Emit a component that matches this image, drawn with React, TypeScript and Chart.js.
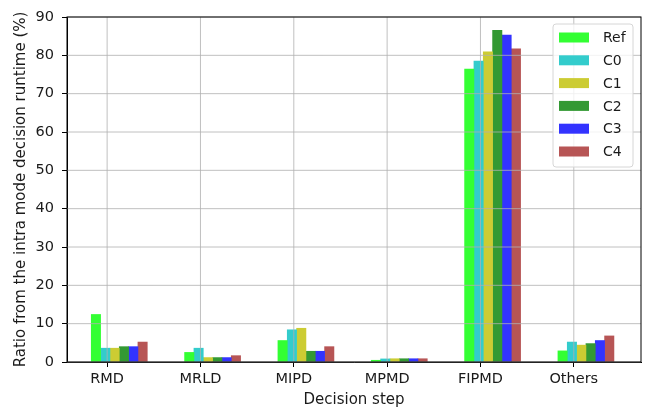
import React, { useEffect, useRef } from "react";
import { Chart, registerables } from "chart.js";

Chart.register(...registerables);

const categories = ["RMD", "MRLD", "MIPD", "MPMD", "FIPMD", "Others"];
const seriesNames = ["Ref", "C0", "C1", "C2", "C3", "C4"];
const refValues = [12.4, 2.5, 5.6, 0.45, 76.4, 2.9];
const c0Values = [3.6, 3.6, 8.4, 0.8, 78.5, 5.2];
const c1Values = [3.6, 1.15, 8.8, 0.85, 80.9, 4.4];
const c2Values = [4.0, 1.15, 2.8, 0.85, 86.5, 4.8];
const c3Values = [4.0, 1.15, 2.8, 0.85, 85.3, 5.6];
const c4Values = [5.2, 1.65, 4.0, 0.85, 81.7, 6.8];
const seriesValues = [refValues, c0Values, c1Values, c2Values, c3Values, c4Values];
const yTicks = [0, 10, 20, 30, 40, 50, 60, 70, 80, 90];
const seriesColors = [
  "rgb(51,255,51)",
  "rgb(51,204,204)",
  "rgb(204,204,51)",
  "rgb(51,153,51)",
  "rgb(51,51,255)",
  "rgb(183,85,85)",
];
const xTitle = "Decision step";
const yTitle = "Ratio from the intra mode decision runtime (%)";

const BAR_W = 0.1;
const FONT_FAMILY = "'DejaVu Sans', sans-serif";
const TEXT_COLOR = "#1a1a1a";

const gridAndFramePlugin = {
  id: "gridAndFrame",
  afterDatasetsDraw(chart: any) {
    const { ctx, chartArea, scales } = chart;
    const { left, right, top, bottom } = chartArea;
    ctx.save();
    ctx.strokeStyle = "#b0b0b0";
    ctx.lineWidth = 0.8;
    scales.x.ticks.forEach((t: any) => {
      const px = scales.x.getPixelForValue(t.value);
      ctx.beginPath();
      ctx.moveTo(px, top);
      ctx.lineTo(px, bottom);
      ctx.stroke();
    });
    scales.y.ticks.forEach((t: any) => {
      const py = scales.y.getPixelForValue(t.value);
      ctx.beginPath();
      ctx.moveTo(left, py);
      ctx.lineTo(right, py);
      ctx.stroke();
    });
    ctx.strokeStyle = "#000";
    ctx.lineWidth = 1;
    ctx.strokeRect(left, top, right - left, bottom - top);
    ctx.restore();
  },
};

const legendPlugin = {
  id: "innerLegend",
  afterDraw(chart: any) {
    const { ctx, chartArea } = chart;
    const boxW = 80;
    const boxH = 143;
    const bx = chartArea.right - 8 - boxW;
    const by = chartArea.top + 7;
    ctx.save();
    ctx.fillStyle = "rgba(255,255,255,0.8)";
    ctx.strokeStyle = "#d6d6d6";
    ctx.lineWidth = 1;
    ctx.beginPath();
    if (ctx.roundRect) ctx.roundRect(bx, by, boxW, boxH, 3);
    else ctx.rect(bx, by, boxW, boxH);
    ctx.fill();
    ctx.stroke();
    ctx.font = `14px ${FONT_FAMILY}`;
    ctx.textBaseline = "middle";
    ctx.textAlign = "left";
    chart.data.datasets.forEach((ds: any, k: number) => {
      const cy = by + 13.5 + k * 22.8;
      ctx.fillStyle = ds.backgroundColor;
      ctx.fillRect(bx + 6, cy - 5, 30, 10);
      ctx.fillStyle = TEXT_COLOR;
      ctx.fillText(ds.label, bx + 50, cy + 1);
    });
    ctx.restore();
  },
};

export default function App() {
  const canvasRef = useRef<HTMLCanvasElement | null>(null);

  useEffect(() => {
    if (!canvasRef.current) return;
    const tickFont = { family: FONT_FAMILY, size: 14.5 };
    const titleFont = { family: FONT_FAMILY, size: 15 };
    const datasets = seriesNames.map((name, j) => ({
      label: name,
      data: seriesValues[j].map((v, i) => ({ x: i + (j - 1.2) * BAR_W, y: v })),
      backgroundColor: seriesColors[j],
      borderWidth: 0,
      grouped: false,
      barPercentage: 1,
      categoryPercentage: 1,
    }));
    const chart = new Chart(canvasRef.current, {
      type: "bar",
      data: { datasets },
      options: {
        animation: false,
        responsive: false,
        maintainAspectRatio: false,
        layout: { padding: { top: 17, right: 5, left: 0, bottom: 0 } },
        plugins: { legend: { display: false }, tooltip: { enabled: false } },
        scales: {
          x: {
            type: "linear",
            offset: false,
            min: -0.43,
            max: 5.72,
            afterBuildTicks: (s: any) => {
              s.ticks = categories.map((_, i) => ({ value: i }));
            },
            afterFit: (s: any) => {
              s.height = 48;
            },
            ticks: {
              callback: (v: any) => categories[Math.round(v)] ?? "",
              font: tickFont,
              color: TEXT_COLOR,
              padding: 4,
              autoSkip: false,
              maxRotation: 0,
              minRotation: 0,
            },
            grid: { offset: false, drawOnChartArea: false, tickLength: 5, tickColor: "#000", tickWidth: 1 },
            border: { color: "#000", width: 1 },
            title: {
              display: true,
              text: xTitle,
              font: titleFont,
              color: TEXT_COLOR,
              padding: { top: 0, bottom: 1 },
            },
          },
          y: {
            type: "linear",
            min: 0,
            max: 90,
            afterBuildTicks: (s: any) => {
              s.ticks = yTicks.map((v) => ({ value: v }));
            },
            afterFit: (s: any) => {
              s.width = 67;
            },
            ticks: { font: tickFont, color: TEXT_COLOR, padding: 8 },
            grid: { drawOnChartArea: false, tickLength: 5, tickColor: "#000", tickWidth: 1 },
            border: { color: "#000", width: 1 },
            title: {
              display: true,
              text: yTitle,
              font: titleFont,
              color: TEXT_COLOR,
              padding: { top: 12, bottom: 0 },
            },
          },
        },
      },
      plugins: [gridAndFramePlugin, legendPlugin],
    } as any);
    return () => chart.destroy();
  }, []);

  return (
    <div style={{ position: "absolute", left: 0, top: 0, width: 646, height: 410, background: "#fff" }}>
      <canvas ref={canvasRef} width={646} height={410} style={{ width: 646, height: 410 }} />
    </div>
  );
}
